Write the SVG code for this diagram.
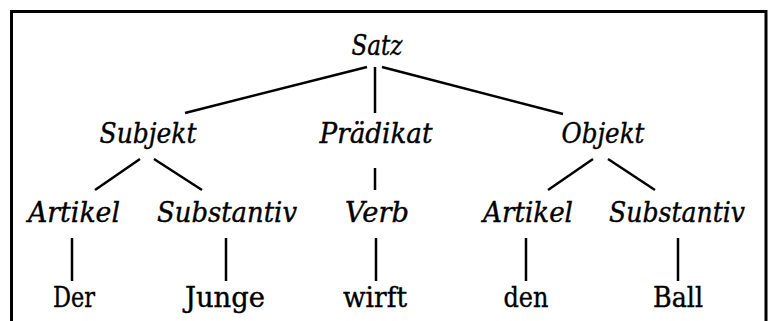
<svg xmlns="http://www.w3.org/2000/svg" width="770" height="321" viewBox="0 0 770 321">
<style>
.t text{font-family:'DejaVu Serif',serif;font-size:28px;fill:#000;stroke:#000;stroke-width:0.4;text-anchor:middle}
.i{font-style:italic}
#edges line{stroke:#000;stroke-width:2.5;stroke-linecap:butt}
</style>
<rect width="770" height="321" fill="#fff"/>
<path d="M11.5,321 V11.5 H766 V321" fill="none" stroke="#000" stroke-width="3"/>
<g id="edges">
<line x1="367" y1="67" x2="185" y2="113"/>
<line x1="375" y1="67" x2="375" y2="113"/>
<line x1="382" y1="67" x2="563" y2="114"/>
<line x1="140" y1="159" x2="95" y2="190"/>
<line x1="154" y1="159" x2="202" y2="190"/>
<line x1="375" y1="168" x2="375" y2="190"/>
<line x1="593" y1="159" x2="548" y2="190"/>
<line x1="608" y1="159" x2="655" y2="190"/>
<line x1="72" y1="238" x2="72" y2="281"/>
<line x1="226" y1="238" x2="226" y2="281"/>
<line x1="376" y1="238" x2="376" y2="281"/>
<line x1="526" y1="238" x2="526" y2="281"/>
<line x1="678" y1="238" x2="678" y2="281"/>
</g>
<g class="t">
<g id="satz"><text class="i" x="377" y="55" textLength="51" lengthAdjust="spacingAndGlyphs">Satz</text></g>
<g id="subjekt"><text class="i" x="148" y="143" textLength="97" lengthAdjust="spacingAndGlyphs">Subjekt</text></g>
<g id="praedikat"><text class="i" x="376" y="143" textLength="113" lengthAdjust="spacingAndGlyphs">Prädikat</text></g>
<g id="objekt"><text class="i" x="603" y="143" textLength="83" lengthAdjust="spacingAndGlyphs">Objekt</text></g>
<g id="artikel1"><text class="i" x="74" y="222" textLength="92" lengthAdjust="spacingAndGlyphs">Artikel</text></g>
<g id="substantiv1"><text class="i" x="227" y="222" textLength="140" lengthAdjust="spacingAndGlyphs">Substantiv</text></g>
<g id="verb"><text class="i" x="377" y="222" textLength="64" lengthAdjust="spacingAndGlyphs">Verb</text></g>
<g id="artikel2"><text class="i" x="528" y="222" textLength="90" lengthAdjust="spacingAndGlyphs">Artikel</text></g>
<g id="substantiv2"><text class="i" x="677" y="222" textLength="136" lengthAdjust="spacingAndGlyphs">Substantiv</text></g>
<g id="der"><text x="74" y="307" textLength="42" lengthAdjust="spacingAndGlyphs">Der</text></g>
<g id="junge"><text x="225" y="307" textLength="80" lengthAdjust="spacingAndGlyphs">Junge</text></g>
<g id="wirft"><text x="375" y="307" textLength="64" lengthAdjust="spacingAndGlyphs">wirft</text></g>
<g id="den"><text x="526" y="307" textLength="45" lengthAdjust="spacingAndGlyphs">den</text></g>
<g id="ball"><text x="678" y="307" textLength="50" lengthAdjust="spacingAndGlyphs">Ball</text></g>
</g>
</svg>
